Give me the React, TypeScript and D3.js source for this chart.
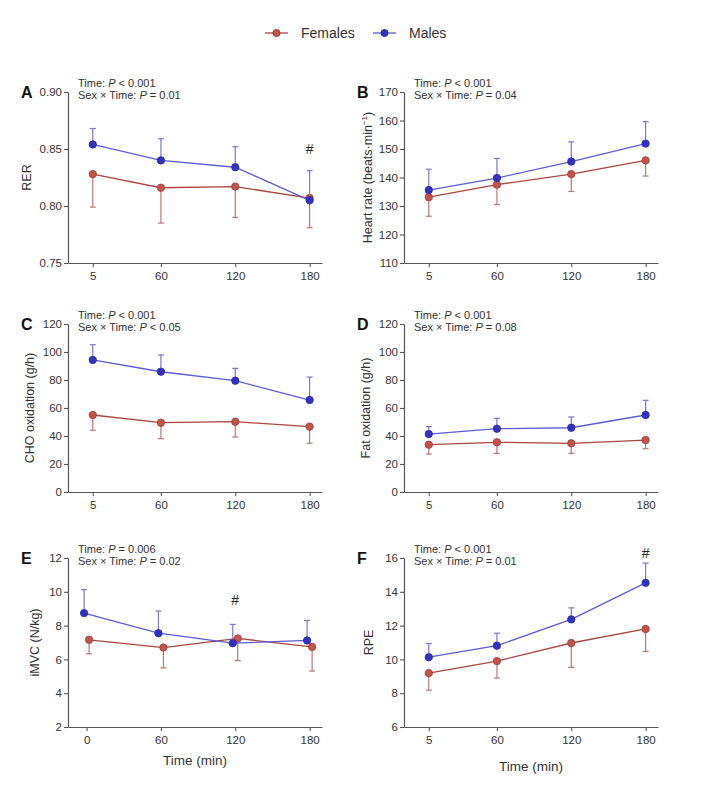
import React, { useEffect, useRef } from 'react'
import * as d3 from 'd3'

// time points (min)
const timesMain = [5, 60, 120, 180]
const timesMvc = [0, 60, 120, 180]

// A - RER
const rerFemale = [0.828, 0.816, 0.817, 0.807]
const rerFemaleSd = [0.029, 0.031, 0.027, 0.026]
const rerMale = [0.854, 0.840, 0.834, 0.805]
const rerMaleSd = [0.014, 0.019, 0.018, 0.026]

// B - heart rate
const hrFemale = [133.1, 137.5, 141.2, 146.0]
const hrFemaleSd = [6.7, 7.0, 6.1, 5.5]
const hrMale = [135.6, 139.8, 145.6, 151.9]
const hrMaleSd = [7.3, 6.9, 6.9, 7.7]

// C - CHO oxidation
const choFemale = [55.0, 49.5, 50.2, 46.7]
const choFemaleSd = [10.9, 11.4, 10.9, 11.9]
const choMale = [94.3, 85.9, 79.5, 65.7]
const choMaleSd = [10.9, 12.0, 8.8, 16.4]

// D - fat oxidation
const fatFemale = [33.8, 35.5, 34.8, 37.1]
const fatFemaleSd = [6.7, 7.9, 7.2, 6.2]
const fatMale = [41.4, 45.2, 45.9, 55.0]
const fatMaleSd = [5.3, 7.4, 7.7, 10.5]

// E - iMVC
const mvcFemale = [7.16, 6.70, 7.24, 6.74]
const mvcFemaleSd = [0.83, 1.20, 1.31, 1.43]
const mvcMale = [8.74, 7.55, 6.96, 7.12]
const mvcMaleSd = [1.39, 1.31, 1.11, 1.19]

// F - RPE
const rpeFemale = [9.19, 9.90, 10.97, 11.80]
const rpeFemaleSd = [1.01, 1.00, 1.44, 1.33]
const rpeMale = [10.13, 10.81, 12.37, 14.53]
const rpeMaleSd = [0.81, 0.74, 0.68, 1.17]

const seriesNames = ['Females', 'Males']

const FEMALE = { line: '#a8473f', fill: '#c4544b', stroke: '#9c3c35', err: '#b97a72' }
const MALE = { line: '#5c5cd6', fill: '#3232bd', stroke: '#2a2aa8', err: '#7878d6' }

const FONT = '"Liberation Sans", Arial, Helvetica, sans-serif'

const panels = [
    { id: 'A', col: 0, row: 0, times: timesMain, yDomain: [0.75, 0.9], yTicks: [0.75, 0.8, 0.85, 0.9], fmt: d3.format('.2f'),
      yLabel: 'RER', p1: '< 0.001', p2: '= 0.01', f: rerFemale, fSd: rerFemaleSd, m: rerMale, mSd: rerMaleSd,
      hash: [180, 0.85], labelOff: 41, dodge: 0 },
    { id: 'B', col: 1, row: 0, times: timesMain, yDomain: [110, 170], yTicks: [110, 120, 130, 140, 150, 160, 170], fmt: d3.format('d'),
      yLabel: 'HR', p1: '< 0.001', p2: '= 0.04', f: hrFemale, fSd: hrFemaleSd, m: hrMale, mSd: hrMaleSd,
      hash: null, labelOff: 36, dodge: 0 },
    { id: 'C', col: 0, row: 1, times: timesMain, yDomain: [0, 120], yTicks: [0, 20, 40, 60, 80, 100, 120], fmt: d3.format('d'),
      yLabel: 'CHO oxidation (g/h)', p1: '< 0.001', p2: '< 0.05', f: choFemale, fSd: choFemaleSd, m: choMale, mSd: choMaleSd,
      hash: null, labelOff: 38, dodge: 0 },
    { id: 'D', col: 1, row: 1, times: timesMain, yDomain: [0, 120], yTicks: [0, 20, 40, 60, 80, 100, 120], fmt: d3.format('d'),
      yLabel: 'Fat oxidation (g/h)', p1: '< 0.001', p2: '= 0.08', f: fatFemale, fSd: fatFemaleSd, m: fatMale, mSd: fatMaleSd,
      hash: null, labelOff: 38, dodge: 0 },
    { id: 'E', col: 0, row: 2, times: timesMvc, yDomain: [2, 12], yTicks: [2, 4, 6, 8, 10, 12], fmt: d3.format('d'),
      yLabel: 'iMVC (N/kg)', p1: '= 0.006', p2: '= 0.02', f: mvcFemale, fSd: mvcFemaleSd, m: mvcMale, mSd: mvcMaleSd,
      hash: [120, 9.5], labelOff: 33, dodge: 2.5, xTitle: true },
    { id: 'F', col: 1, row: 2, times: timesMain, yDomain: [6, 16], yTicks: [6, 8, 10, 12, 14, 16], fmt: d3.format('d'),
      yLabel: 'RPE', p1: '< 0.001', p2: '= 0.01', f: rpeFemale, fSd: rpeFemaleSd, m: rpeMale, mSd: rpeMaleSd,
      hash: [180, 16.3], labelOff: 35, dodge: 0, xTitle: true },
]

const colLeft = [68, 404]
const plotW = 254
const rowTop = [92, 324, 558]
const rowBottom = [263, 492, 727]

export default function App() {
    const ref = useRef<SVGSVGElement>(null)

    useEffect(() => {
        const svg = d3.select(ref.current)
        svg.selectAll('*').remove()
        svg.style('font-family', FONT)

        // legend
        const legend = svg.append('g')
        const legendX = [265, 373]
        seriesNames.forEach((name, i) => {
            const c = i === 0 ? FEMALE : MALE
            const g = legend.append('g').attr('transform', `translate(${legendX[i]}, 33)`)
            g.append('line').attr('x1', 0).attr('x2', 23).attr('stroke', c.line).attr('stroke-width', 1.3)
            g.append('circle').attr('cx', 11.5).attr('r', 3.5).attr('fill', c.fill).attr('stroke', c.stroke)
            g.append('text').attr('x', 36).attr('y', 5).attr('font-size', 14).attr('fill', '#333').text(name)
        })

        panels.forEach(p => {
            const left = colLeft[p.col]
            const top = rowTop[p.row]
            const bottom = rowBottom[p.row]
            const x = d3.scaleLinear().domain([-15, 190]).range([left, left + plotW])
            const y = d3.scaleLinear().domain(p.yDomain).range([bottom, top])
            const g = svg.append('g')

            // axes
            const yAxis = g.append('g').attr('transform', `translate(${left},0)`)
                .call(d3.axisLeft(y).tickValues(p.yTicks).tickFormat(p.fmt as any).tickSize(4).tickPadding(2).tickSizeOuter(0))
            const xAxis = g.append('g').attr('transform', `translate(0,${bottom})`)
                .call(d3.axisBottom(x).tickValues(p.times).tickFormat(d3.format('d') as any).tickSize(4).tickPadding(5).tickSizeOuter(0))
            ;[yAxis, xAxis].forEach(a => {
                a.select('.domain').attr('stroke', '#555').attr('stroke-width', 1.2)
                a.selectAll('.tick line').attr('stroke', '#555').attr('stroke-width', 1.1)
                a.selectAll('.tick text').attr('fill', '#333').attr('font-size', 11.5).style('font-family', FONT)
            })

            // panel letter
            g.append('text').attr('x', left - 47).attr('y', top + 6).attr('font-size', 16).attr('font-weight', 'bold')
                .attr('fill', '#111').text(p.id)

            // y label
            const yl = g.append('text')
                .attr('transform', `translate(${left - p.labelOff},${(top + bottom) / 2}) rotate(-90)`)
                .attr('dy', '0.35em')
                .attr('text-anchor', 'middle').attr('font-size', 12.5).attr('fill', '#333')
            if (p.yLabel === 'HR') {
                yl.append('tspan').text('Heart rate (beats·min')
                yl.append('tspan').attr('font-size', 8).attr('dy', -5).text('−1')
                yl.append('tspan').attr('dy', 5).text(')')
            } else {
                yl.text(p.yLabel)
            }

            // stats annotation
            const ann = g.append('text').attr('x', left + 10).attr('y', top - 5).attr('font-size', 11).attr('fill', '#333')
            ann.append('tspan').text('Time: ')
            ann.append('tspan').attr('font-style', 'italic').text('P')
            ann.append('tspan').text(' ' + p.p1)
            const ann2 = g.append('text').attr('x', left + 10).attr('y', top + 7).attr('font-size', 11).attr('fill', '#333')
            ann2.append('tspan').text('Sex × Time: ')
            ann2.append('tspan').attr('font-style', 'italic').text('P')
            ann2.append('tspan').text(' ' + p.p2)

            // series: females error down, males error up
            const series = [
                { mean: p.f, sd: p.fSd, c: FEMALE, dir: -1, dx: p.dodge },
                { mean: p.m, sd: p.mSd, c: MALE, dir: 1, dx: -p.dodge },
            ]
            series.forEach(s => {
                const pts = p.times.map((t, i) => ({ t, v: s.mean[i], e: s.mean[i] + s.dir * s.sd[i] }))
                const eg = g.append('g')
                eg.selectAll('line.bar').data(pts).enter().append('line')
                    .attr('x1', d => x(d.t) + s.dx).attr('x2', d => x(d.t) + s.dx)
                    .attr('y1', d => y(d.v)).attr('y2', d => y(d.e))
                    .attr('stroke', s.c.err).attr('stroke-width', 1.2)
                eg.selectAll('line.cap').data(pts).enter().append('line')
                    .attr('x1', d => x(d.t) + s.dx - 3).attr('x2', d => x(d.t) + s.dx + 3)
                    .attr('y1', d => y(d.e)).attr('y2', d => y(d.e))
                    .attr('stroke', s.c.err).attr('stroke-width', 1.2)
                const line = d3.line<any>().x(d => x(d.t) + s.dx).y(d => y(d.v))
                g.append('path').datum(pts).attr('d', line).attr('fill', 'none')
                    .attr('stroke', s.c.line).attr('stroke-width', 1.3)
                g.selectAll(null).data(pts).enter().append('circle')
                    .attr('cx', d => x(d.t) + s.dx).attr('cy', d => y(d.v)).attr('r', 3.7)
                    .attr('fill', s.c.fill).attr('stroke', s.c.stroke).attr('stroke-width', 0.8)
            })

            if (p.hash) {
                g.append('text').attr('x', x(p.hash[0])).attr('y', y(p.hash[1])).attr('dy', '0.35em')
                    .attr('text-anchor', 'middle').attr('font-size', 14).attr('fill', '#222').text('#')
            }

            if (p.xTitle) {
                g.append('text').attr('x', left + plotW / 2).attr('y', bottom + 38 + (p.col === 1 ? 6 : 0))
                    .attr('text-anchor', 'middle').attr('font-size', 13.5).attr('fill', '#333').text('Time (min)')
            }
        })
    }, [])

    return (
        <div style={{ position: 'absolute', left: 0, top: 0, background: '#fff' }}>
            <svg ref={ref} width={724} height={800} />
        </div>
    )
}
